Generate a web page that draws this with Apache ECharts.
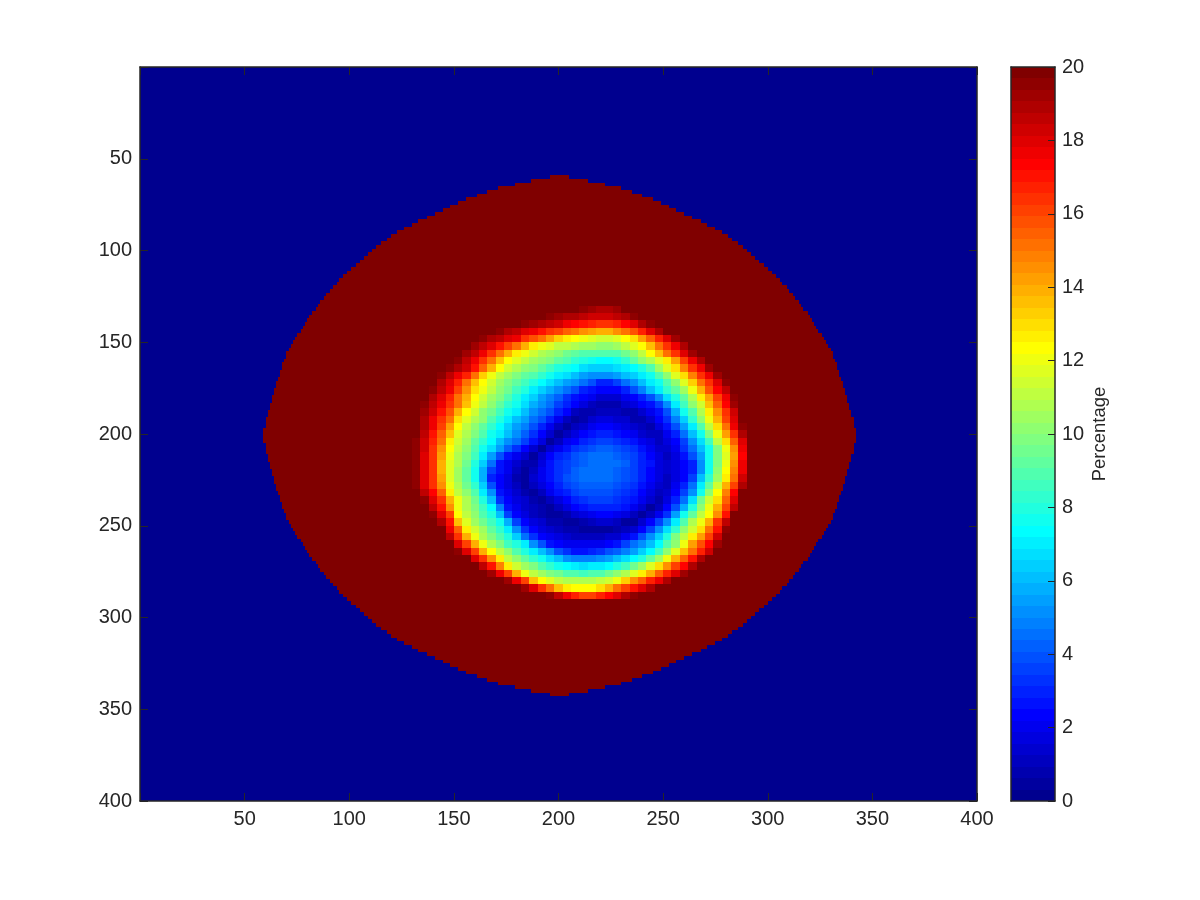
<!DOCTYPE html>
<html><head><meta charset="utf-8">
<style>html,body{margin:0;background:#fff}#c{width:1200px;height:900px}</style>
<script src="https://cdn.jsdelivr.net/npm/echarts@6/dist/echarts.min.js"></script>
</head><body><div id="c"></div>
<script>
// Edges of the saturated lens, one value per row pair, y = 60, 62, ... 342
const lensLeft = [196,187,179,171,166,161,156,152,148,145,141,137,133,130,126,123,120,118,115,113,111,109,107,105,103,101,99,97,95,94,92,91,89,88,86,85,84,82,81,80,79,78,77,75,74,73,72,71,70,70,69,68,68,67,67,66,65,65,64,64,63,63,62,62,61,61,60,60,60,59,59,
59,59,60,60,60,61,61,62,62,63,63,64,64,65,65,66,67,67,68,68,69,70,70,71,72,73,74,75,77,78,79,80,81,82,84,85,86,88,89,91,92,94,95,97,99,101,103,105,107,109,111,113,115,118,120,123,126,130,133,137,141,145,148,152,156,161,166,171,179,187,196];
const lensRight = [205,214,222,230,235,240,245,249,253,256,260,264,268,271,275,278,281,283,286,288,290,292,294,296,298,300,302,304,306,307,309,310,312,313,315,316,317,319,320,321,322,323,324,326,327,328,329,330,331,331,332,333,333,334,334,335,336,336,337,337,338,338,339,339,340,340,341,341,341,342,342,
342,342,341,341,341,340,340,339,339,338,338,337,337,336,336,335,334,334,333,333,332,331,331,330,329,328,327,326,324,323,322,321,320,319,317,316,315,313,312,310,309,307,306,304,302,300,298,296,294,292,290,288,286,283,281,278,275,271,268,264,260,256,253,249,245,240,235,230,222,214,205];
// Central depression: row centre, centre of first cell, then percentages every 4 units
const ringRowY = [132,136,140,144,148,152,156,160,164,168,172,176,180,184,188,192,196,200,204,208,212,216,220,224,228,232,236,240,244,248,252,256,260,264,268,272,276,280,284,288];
const ringRowStart = [212,192,180,172,164,156,152,152,148,144,144,140,140,136,132,132,132,132,132,132,132,132,132,132,132,132,136,140,140,144,144,148,148,152,156,164,168,176,184,196];
const ringRows = [
[19.6,19.2,19,19,19.3],
[19.8,19.5,19.2,19,18.8,18.6,18.4,18.3,18.3,18.6,19,19.5],
[19.7,19.4,19.1,18.8,18.5,18.2,17.8,17.4,17,16.7,16.5,16.5,16.8,17.4,18,18.8,19.6],
[19.6,19,18.5,18,17.5,17,16.5,16,15.5,15,14.6,14.3,14,14,14.4,15,15.7,16.7,18,19],
[19.6,19,18.5,18,17.5,16.5,15.7,15,14.2,13.4,12.7,12.2,11.9,11.7,11.5,11.5,11.8,12.2,13,14.3,15.5,16.8,18,19.2],
[19.8,19.2,18.7,18,17,16,15,14,12.8,12,11.6,11.2,11,10.8,10.6,10.4,10.3,10.3,10.5,11,11.7,12.3,13.5,15,16.5,17.8,19],
[19.8,19.2,18.5,17.5,16.3,15.2,14,12.8,12,11.4,10.8,10.4,10,9.6,9.3,9,8.8,8.8,8.8,9,9.6,10.3,11.2,12.2,13.5,15,16.5,18,19.2],
[19.4,18.7,17.8,16.5,15,13.7,12.3,11.8,11.2,10.6,10.1,9.7,9.2,8.8,8.3,7.9,7.6,7.4,7.4,7.8,8.4,9.2,10,10.9,11.8,12.8,14.3,16,17.5,19],
[19.6,19,18.2,17,15.5,14,12.2,11.5,10.9,10.3,9.7,9.1,8.6,8,7.6,7.2,6.8,6.5,6.3,6.3,6.6,7,7.3,8.1,9,10.5,11.7,13,14.8,16.3,17.8,19.2],
[19.6,18.6,17.8,16.6,15,13.3,12,11.2,10.4,9.8,9.3,8.8,8.2,7.7,7.1,6.6,6.1,5.6,5.2,5,5,5.4,6,6.5,7.1,7.8,9,10.3,11.6,13,14.8,16.3,17.7,19.2],
[19,18,16.8,15.3,13.7,12.2,11.3,10.6,9.9,9.2,8.6,8,7.3,6.7,6.1,5.5,5,4.4,3.8,3.1,3,3.6,4.4,5.2,6,6.9,7.8,9,10.2,11.7,13.2,15,16.5,18,19.6],
[19.6,18.6,17.5,16,14.5,13,12,11.2,10.3,9.5,8.7,7.9,7.1,6.4,5.7,5,4.4,3.8,3.1,2.5,2.2,2.2,2.4,3,3.9,4.9,6,7,8.2,9.2,10.5,12,14,15.8,17.3,18.7],
[19,18,16.7,15.3,14,12.3,11.5,10.6,9.7,8.9,8,7.1,6.3,5.5,4.8,4.1,3.4,2.8,2.3,1.9,1.5,1.3,1.5,1.9,2.3,3,4,5.2,6.6,8,9.2,10.7,12.5,14.3,16,17.8,19.5],
[19.6,18.7,17.5,16.3,15,13.6,12,11,10,9.2,8.3,7.5,6.7,5.9,5.1,4.4,3.6,2.9,2.2,1.6,1.1,0.8,0.7,0.9,1.3,1.8,2.3,2.7,3.7,5.2,7,8.6,10,11.4,13.5,15.5,17.3,19.1],
[19.7,19.3,18.2,17,15.7,14,12.3,11.3,10.3,9.4,8.5,7.7,6.9,6.1,5.3,4.6,3.8,3,2.3,1.2,0.7,0.9,1.1,1.1,1,0.9,0.8,1.4,2,2.8,4,5.7,7.5,9,10.8,12.5,14.5,16.5,18.3],
[19.7,19,17.8,16.5,15,13,11.8,10.9,10,9,8,7.1,6.2,5.4,4.6,3.8,3,2.1,1.2,0.6,0.9,1.3,1.6,1.6,1.5,1.3,0.9,0.8,1.4,2.3,3.2,4.7,6.5,8.2,10.3,12,14,16,18],
[19.7,18.8,17.5,16,14.2,12.2,11.2,10.3,9.3,8.3,7.3,6.4,5.5,4.7,3.8,3,2.1,1.2,0.6,1,1.5,1.9,2.2,2.3,2.1,1.8,1.4,1,0.9,1.6,2.5,3.8,5.4,7,9,11.2,13,15.3,17.5,19.6],
[19.7,18.5,17,15.5,13.5,11.8,10.8,9.8,8.8,7.8,6.9,6,5,4.2,3.4,2.4,1.3,0.6,1.1,1.7,2.2,2.6,2.9,3,2.8,2.4,2,1.5,1.1,1,1.9,2.9,4.4,6,7.5,9.8,12,14.3,16.5,18.8],
[19.6,18.3,16.8,15,12.5,11.4,10.4,9.3,8.2,7.2,6.2,5.3,4.5,3.7,2.8,1.6,0.6,1.2,1.9,2.4,2.9,3.3,3.5,3.6,3.4,3,2.6,2.1,1.6,1.1,1.7,2.4,3.6,5.2,6.7,8.7,11,13,15.5,18],
[19.6,18.2,16.5,14.5,12.2,11.1,10,8.9,7.8,6.6,5.5,4.3,3.2,2.2,1.4,0.6,1.4,2.1,2.7,3.2,3.7,3.9,4.1,4.1,3.9,3.6,3.2,2.7,2.1,1.4,1.3,2.1,3.2,4.6,6,7.5,9.8,12,14.5,17.5],
[19.6,18,16.4,14.3,12,10.9,9.7,8.5,7.1,5.6,3.9,2.6,1.9,1.3,0.6,1.4,2.2,2.9,3.4,3.9,4.2,4.4,4.5,4.5,4.3,4,3.5,2.9,2.3,1.6,1.2,1.8,2.5,3.9,5.6,7.5,9.7,11.8,14.3,17.4],
[19.6,18,16.3,14,11.8,10.7,9.5,8.1,6.3,4.4,2.6,2,1.4,0.8,0.8,1.8,2.6,3.2,3.7,4,4.3,4.5,4.6,4.6,4.4,4.1,3.7,3.1,2.5,1.8,1.3,1.6,2.4,3,5,7.5,9.7,12,14.5,17.5],
[19.6,18,16.3,14,11.8,10.5,9.2,7.8,5.9,3.7,2.5,1.9,1.2,0.6,1.1,1.9,2.6,3.2,3.7,4.1,4.4,4.6,4.6,4.5,4.3,4,3.6,3,2.4,1.7,1.3,1.7,2.4,3,5,7.5,10,12.3,14.8,17.8],
[19.6,18,16.4,14.2,11.8,10.5,9.2,7.8,5.7,3.1,2.2,1.6,0.8,0.6,1.3,2,2.7,3.3,3.8,4.2,4.5,4.6,4.5,4.4,4.2,3.9,3.5,2.9,2.3,1.6,1.2,1.8,2.4,3.7,6,8.4,10.5,12.8,15.3,18.2],
[19.6,18.1,16.5,14.5,12,10.7,9.5,8.2,6.3,4,2.4,1.8,1,0.4,1,1.7,2.4,3,3.5,3.9,4.2,4.3,4.3,4.2,4,3.7,3.3,2.7,2.1,1.3,1.1,2,2.9,4.5,7,9.2,11.5,13.8,16,18.8],
[19.8,18.7,17.2,15.5,12.5,11.2,10,8.8,7,5,2.7,2.1,1.5,0.8,0.5,1.2,1.9,2.5,3.1,3.5,3.8,3.9,3.9,3.9,3.7,3.4,3,2.4,1.8,1,1.3,2.4,3.6,5.3,7.5,10,12.2,14.7,17.2],
[19.6,18,16.3,14,12,10.8,9.6,8,6,3.4,2.4,1.8,1.3,0.7,0.5,1.1,1.8,2.4,2.9,3.3,3.5,3.6,3.6,3.4,3.1,2.6,2,1.3,0.8,1.6,2.9,4.6,6.8,9.5,11.3,13,15.5,18],
[18.6,17,14.5,11.9,10.8,9.7,8.5,7.4,4.8,2.5,1.9,1.4,1,0.7,0.4,1,1.7,2.2,2.6,2.9,3,3,2.9,2.5,2,1.3,0.6,1.2,2.3,3.8,5.8,8,10.2,12,14,16,18.5],
[19.4,18,16,12.3,11.2,10,9,8,6,3.6,2.2,1.6,1.2,0.9,0.6,0.4,0.8,1.3,1.7,2,2.2,2.2,2,1.6,1,0.5,1.1,2,3.3,5.4,7.5,9.3,11,12.2,14.5,17,19.8],
[19,17,13.5,11.8,10.6,9.6,8.6,7.6,5.8,3.5,2.3,1.7,1.3,0.9,0.7,0.5,0.5,0.8,1.1,1.3,1.3,1,0.6,0.6,1.3,2.2,3.5,5.1,7.1,9,10.7,12,14,16.3,18.6],
[19.7,17.7,15.5,12.5,11.5,10.4,9.3,8.3,7,5,3.3,2.2,1.7,1.3,1,0.8,0.7,0.6,0.6,0.6,0.6,0.7,1,1.5,2.2,3.7,5.1,6.6,8.3,10,11.5,13,15,17,19.5],
[18.5,16.5,14,12,10.8,9.8,8.8,7.9,6.4,4.6,3.4,2.3,1.9,1.6,1.3,1.2,1.2,1.2,1.2,1.3,1.5,1.9,2.5,3.8,5,6.3,8,9.8,11,12.5,14.3,16,18.3],
[19.8,18,16.2,14,12,10.8,9.7,8.7,7.9,7,5.3,4,2.8,2.3,2.1,1.9,1.9,2,2.1,2.3,2.8,3.6,4.4,5.3,6.2,7.2,8.8,10.3,11.9,14.2,15.8,17.3,19.2],
[19.5,18,16,14,12.2,11,10,9,8,7,6,5,4,3.2,2.8,2.7,3,3.4,3.8,4.2,4.8,5.5,6.3,7.2,8.6,10,11.6,13.5,15.2,16.8,18.3],
[19.7,18,16.3,14.5,12.5,11.2,10.1,9.1,8.3,7.5,6.7,6,5.3,4.9,4.7,4.8,5.2,5.6,6,6.6,7.2,8,9.2,10.6,12,13.8,15.5,17,18.8],
[18.5,17,14.8,12.5,11.5,10.5,9.7,9,8.2,7.5,7.2,6.9,6.8,6.9,7.1,7.4,7.9,8.7,9.5,10.5,11.7,13,14.5,16,17.4,19],
[19.3,17.7,16,14,12,11.2,10.5,9.9,9.4,9,8.8,8.7,8.8,9,9.4,10,10.8,11.7,12.5,14,15.5,16.8,18,19.3],
[19.3,17.8,16,13.7,12.2,11.6,11.2,10.9,10.7,10.7,10.8,11,11.4,12,13.2,14.5,15.5,16.7,17.8,19],
[19.3,18,16.5,15,13.7,12.7,12.3,12.2,12.3,13,14,15,16,17,18,19,19.8],
[19.5,18.5,17.5,16.7,16.2,16.2,16.7,17.3,18,18.8,19.5]
];
const fieldValue = 0;
const saturatedValue = 20;
const xTicks = [50,100,150,200,250,300,350,400];
const yTicks = [50,100,150,200,250,300,350,400];
const barTicks = [0,2,4,6,8,10,12,14,16,18,20];
const barLabel = 'Percentage';
const colorLevels = 64;

function u(k){ if(k<1||k>47) return 0; return k<=16?k/16:(k<=31?1:(48-k)/16); }
function jet(v){
  const j=Math.min(colorLevels,Math.max(1,Math.floor(v/saturatedValue*colorLevels)+1));
  const c=x=>Math.round(255*x);
  return 'rgb('+c(u(j-24))+','+c(u(j-8))+','+c(u(j+8))+')';
}
const cells=[[0,400,0,400,fieldValue]];
lensLeft.forEach((l,i)=>{const y=60+2*i; cells.push([l,lensRight[i],y-1,y+1,saturatedValue]);});
ringRows.forEach((r,i)=>{r.forEach((v,k)=>{const x=ringRowStart[i]+4*k,y=ringRowY[i];cells.push([x-2,x+2,y-2,y+2,v]);});});
const barCells=[];
for(let i=0;i<colorLevels;i++){const a=i*saturatedValue/colorLevels,b=(i+1)*saturatedValue/colorLevels;barCells.push([0,1,a,b,(a+b)/2]);}
function rectItem(p,api){
  const a=api.coord([api.value(0),api.value(2)]),b=api.coord([api.value(1),api.value(3)]);
  const x0=Math.round(Math.min(a[0],b[0])),x1=Math.round(Math.max(a[0],b[0])),y0=Math.round(Math.min(a[1],b[1])),y1=Math.round(Math.max(a[1],b[1]));
  return {type:'rect',shape:{x:x0,y:y0,width:x1-x0,height:y1-y0},style:{fill:jet(api.value(4))},silent:true};
}
const ink='#262626',font='"Liberation Sans",Arial,sans-serif';
const line={show:true,onZero:false,lineStyle:{color:ink,width:1.5}};
const tick={show:true,inside:true,length:8,lineStyle:{color:ink,width:1}};
const lab={color:ink,fontSize:20,fontFamily:font};
const fmt=v=>(xTicks.includes(v)?String(v):'');
const chart=echarts.init(document.getElementById('c'),null,{renderer:'canvas'});
chart.setOption({
  animation:false,backgroundColor:'#fff',
  grid:[{left:140,top:67,width:837,height:734},{left:1011,top:67,width:44,height:734}],
  xAxis:[
    {type:'value',gridIndex:0,min:0,max:400,interval:50,position:'bottom',z:10,axisLine:line,axisTick:tick,splitLine:{show:false},axisLabel:Object.assign({margin:8,formatter:fmt},lab)},
    {type:'value',gridIndex:0,min:0,max:400,interval:50,position:'top',z:10,axisLine:line,axisTick:tick,splitLine:{show:false},axisLabel:{show:false}},
    {type:'value',gridIndex:1,min:0,max:1,position:'bottom',z:10,axisLine:line,axisTick:{show:false},splitLine:{show:false},axisLabel:{show:false}},
    {type:'value',gridIndex:1,min:0,max:1,position:'top',z:10,axisLine:line,axisTick:{show:false},splitLine:{show:false},axisLabel:{show:false}}
  ],
  yAxis:[
    {type:'value',gridIndex:0,min:0,max:400,interval:50,inverse:true,position:'left',z:10,axisLine:line,axisTick:tick,splitLine:{show:false},axisLabel:Object.assign({margin:8,formatter:v=>(yTicks.includes(v)?String(v):'')},lab)},
    {type:'value',gridIndex:0,min:0,max:400,interval:50,inverse:true,position:'right',z:10,axisLine:line,axisTick:tick,splitLine:{show:false},axisLabel:{show:false}},
    {type:'value',gridIndex:1,min:0,max:20,interval:2,position:'right',z:10,axisLine:line,axisTick:{show:true,inside:true,length:7,lineStyle:{color:ink,width:1}},splitLine:{show:false},
      axisLabel:Object.assign({margin:7,formatter:v=>(barTicks.includes(v)?String(v):'')},lab),
      name:barLabel,nameLocation:'middle',nameRotate:90,nameGap:35,nameTextStyle:{color:ink,fontSize:18.5,fontFamily:font}},
    {type:'value',gridIndex:1,min:0,max:20,interval:2,position:'left',z:10,axisLine:line,axisTick:{show:false},splitLine:{show:false},axisLabel:{show:false}}
  ],
  series:[
    {type:'custom',name:'Percentage',xAxisIndex:0,yAxisIndex:0,renderItem:rectItem,data:cells,encode:{x:[0,1],y:[2,3]},progressive:0,silent:true},
    {type:'custom',name:'Colorbar',xAxisIndex:2,yAxisIndex:2,renderItem:rectItem,data:barCells,encode:{x:[0,1],y:[2,3]},progressive:0,silent:true}
  ]
});
</script></body></html>
